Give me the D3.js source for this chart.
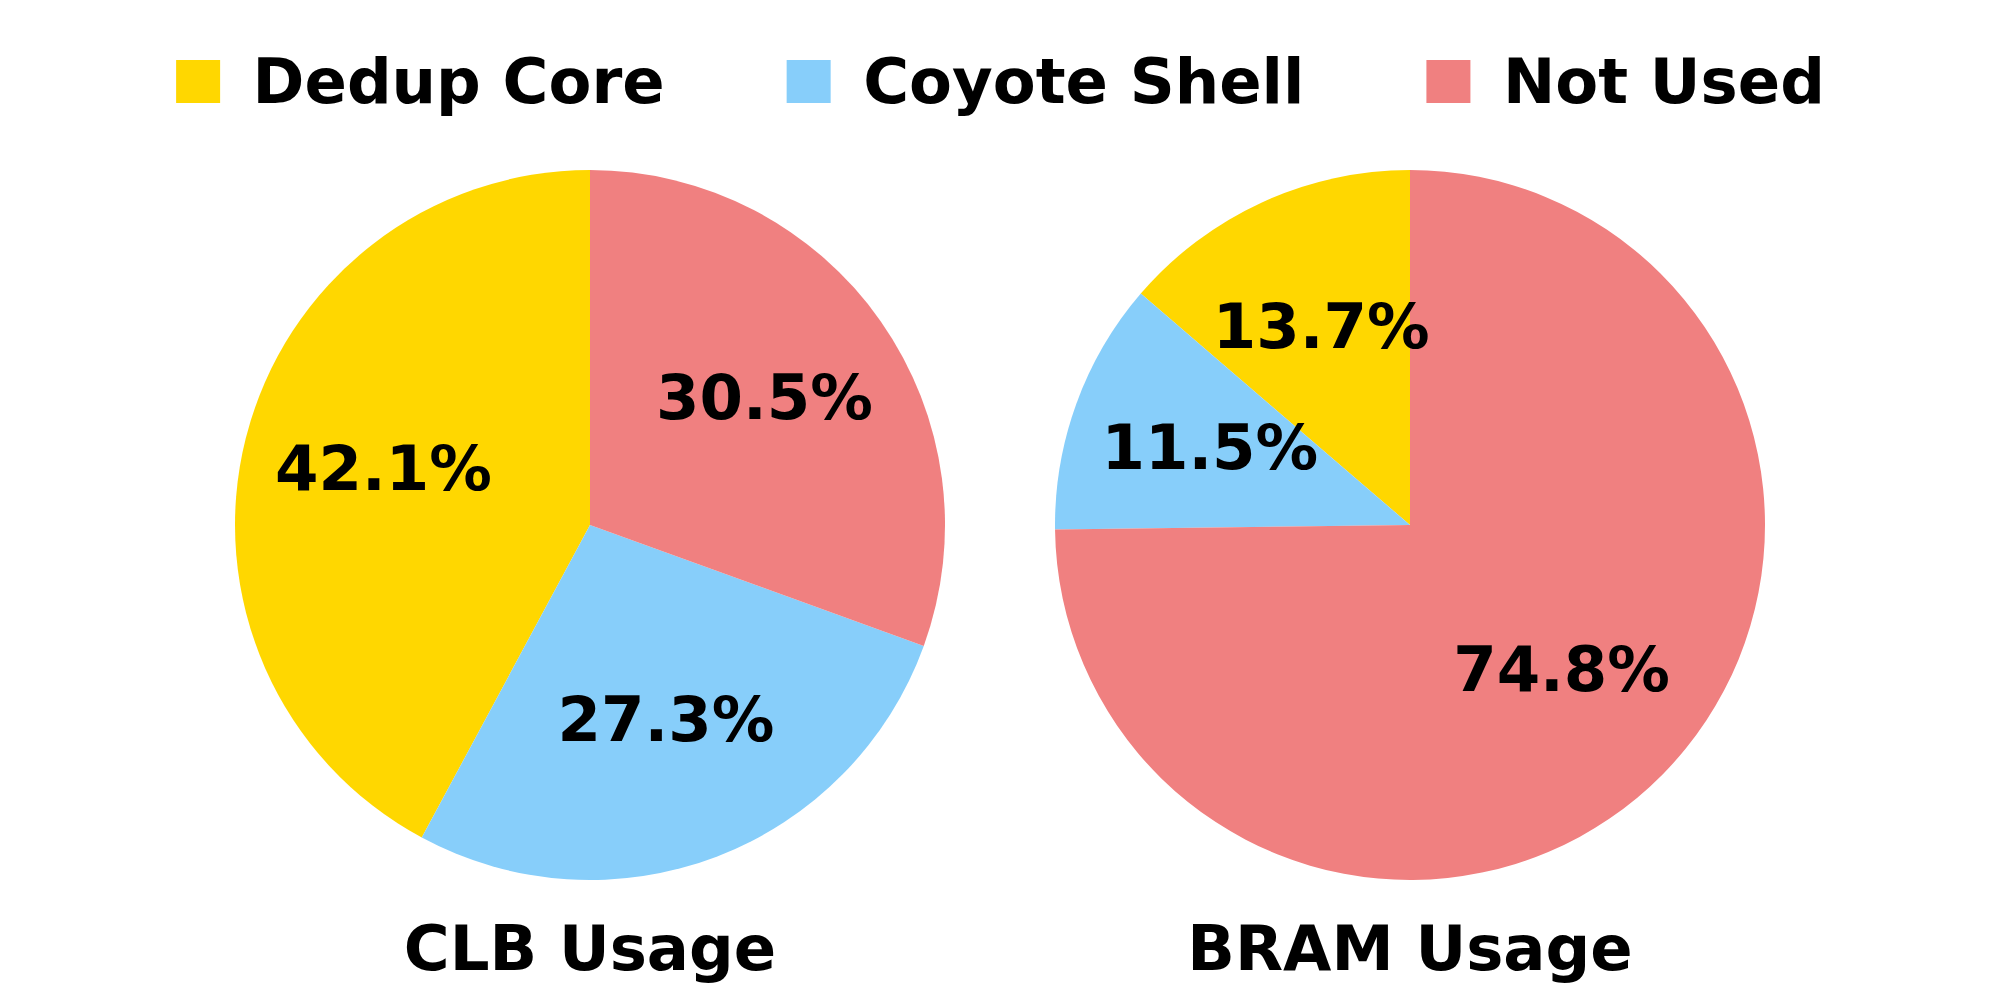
<!DOCTYPE html>
<html>
<head>
<meta charset="utf-8">
<script src="https://cdn.jsdelivr.net/npm/d3@7"></script>
<style>
  html, body { margin: 0; padding: 0; background: #fff; }
  svg { display: block; }
  text { font-family: "DejaVu Sans", sans-serif; font-weight: bold; }
</style>
</head>
<body>
<svg id="chart" width="2000" height="1000"></svg>
<script>
const categories = ["Dedup Core", "Coyote Shell", "Not Used"];
const colors = ["#FFD700", "#87CEFA", "#F08080"];
const clbValues = [42.1, 27.3, 30.5];
const bramValues = [13.7, 11.5, 74.8];
const titles = ["CLB Usage", "BRAM Usage"];

const svg = d3.select("#chart");
const fontSize = 62.5;
const R = 355;
const cy = 525;
const centersX = [590, 1410];

const color = d3.scaleOrdinal().domain(categories).range(colors);

const pie = d3.pie().sort(null).startAngle(0).endAngle(-2 * Math.PI).value(d => d.value);
const arc = d3.arc().innerRadius(0).outerRadius(R);
const labelArc = d3.arc().innerRadius(R * 0.6).outerRadius(R * 0.6);

[clbValues, bramValues].forEach((vals, i) => {
  const data = categories.map((c, j) => ({ cat: c, value: vals[j] }));
  const g = svg.append("g").attr("transform", `translate(${centersX[i]},${cy})`);
  const arcs = pie(data);
  g.selectAll("path.slice").data(arcs).enter().append("path")
    .attr("class", "slice")
    .attr("d", arc)
    .attr("fill", d => color(d.data.cat));
  g.selectAll("text.pct").data(arcs).enter().append("text")
    .attr("class", "pct")
    .attr("x", d => labelArc.centroid(d)[0])
    .attr("y", d => labelArc.centroid(d)[1] + 0.265 * fontSize)
    .attr("text-anchor", "middle")
    .attr("font-size", fontSize)
    .attr("fill", "#000")
    .text(d => d.data.value.toFixed(1) + "%");
  svg.append("text")
    .attr("x", centersX[i])
    .attr("y", 970)
    .attr("text-anchor", "middle")
    .attr("font-size", fontSize)
    .attr("fill", "#000")
    .text(titles[i]);
});

// Legend
const sqW = 44, sqH = 43, pad = 32.5, colGap = 122;
const legend = svg.append("g");
const items = legend.selectAll("g.item").data(categories).enter().append("g").attr("class", "item");
items.append("rect")
  .attr("width", sqW).attr("height", sqH)
  .attr("y", 60)
  .attr("fill", d => color(d));
items.append("text")
  .attr("y", 103)
  .attr("font-size", fontSize)
  .attr("fill", "#000")
  .text(d => d);
let x = 0;
const positions = [];
items.each(function() {
  const tw = d3.select(this).select("text").node().getComputedTextLength();
  positions.push(x);
  x += sqW + pad + tw + colGap;
});
const total = x - colGap;
const startX = 1000.5 - total / 2;
items.each(function(d, i) {
  const sel = d3.select(this);
  sel.select("rect").attr("x", startX + positions[i]);
  sel.select("text").attr("x", startX + positions[i] + sqW + pad);
});
</script>
</body>
</html>
